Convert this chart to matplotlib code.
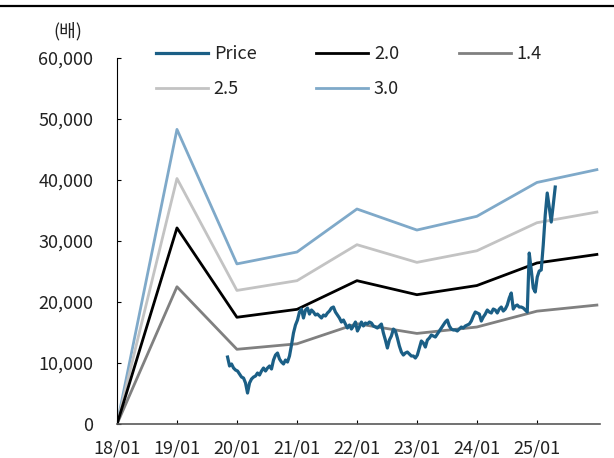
import pandas as pd
import matplotlib
matplotlib.use("Agg")
import matplotlib.pyplot as plt
from matplotlib.lines import Line2D
from matplotlib.ticker import FuncFormatter

plt.rcParams["font.family"] = ["Noto Sans CJK KR", "DejaVu Sans"]

# PBR band values at the start of each year (won)
band_dates = pd.to_datetime(["2018-01-01", "2019-01-01", "2020-01-01", "2021-01-01", "2022-01-01",
                             "2023-01-01", "2024-01-01", "2025-01-01", "2026-01-01"])
band_14 = [0, 22500, 12250, 13150, 16450, 14850, 15900, 18500, 19500]
band_20 = [0, 32150, 17500, 18800, 23500, 21200, 22700, 26400, 27800]
band_25 = [0, 40250, 21900, 23500, 29400, 26500, 28400, 33000, 34750]
band_30 = [0, 48300, 26250, 28200, 35250, 31800, 34050, 39600, 41700]

# share price, every 12 days
price = [10980, 9510, 9840, 9180, 8850, 8690, 8200, 7700, 7540, 6720,
         5080, 6720, 7380, 7700, 7870, 8360, 8030, 8690, 9180, 8690,
         9180, 9510, 9020, 10490, 11310, 11640, 10660, 10160, 9840, 10490,
         10160, 11150, 12950, 14920, 16230, 17050, 18360, 18850, 17380, 18690,
         19020, 18030, 18690, 18360, 17870, 18030, 17700, 17380, 17870, 17700,
         18200, 18520, 19020, 19180, 18360, 17870, 17380, 16720, 17050, 16390,
         15740, 16230, 15570, 16070, 16720, 15250, 15900, 16720, 16070, 16560,
         16390, 16720, 16560, 16070, 15900, 15740, 16070, 16390, 14920, 13770,
         12460, 13770, 14430, 15570, 15250, 14100, 12790, 11800, 11310, 11640,
         11800, 11480, 11150, 11150, 10820, 11310, 12460, 13610, 13280, 12620,
         13770, 14100, 14590, 14430, 14260, 14750, 15250, 15740, 16230, 16720,
         17050, 16070, 15570, 15410, 15410, 15250, 15570, 15900, 15740, 16070,
         16230, 16390, 16880, 17700, 18360, 18200, 18030, 16880, 17540, 18030,
         18690, 18360, 18200, 18850, 18690, 18200, 18850, 19180, 18520, 18850,
         19510, 20660, 21480, 18850, 19340, 19510, 19180, 19180, 19020, 18690,
         18360, 28030, 25250, 22300, 21640, 24100, 25080, 25250, 29340, 34260,
         37870, 35570, 33110, 35900, 38850]
price_dates = pd.date_range("2019-11-05", periods=len(price), freq="292h")

year_ticks = pd.date_range("2018-01-01", "2025-01-01", freq="YS")
tick_labels = ["18/01", "19/01", "20/01", "21/01", "22/01", "23/01", "24/01", "25/01"]

fig = plt.figure(figsize=(6.14, 4.58), dpi=100)
ax = fig.add_axes([0.1906, 0.0742, 0.7866, 0.7991])

ax.plot(band_dates, band_30, color="#7fa9c9", lw=2, label="3.0")
ax.plot(band_dates, band_25, color="#c3c3c3", lw=2, label="2.5")
ax.plot(band_dates, band_14, color="#808080", lw=2, label="1.4")
ax.plot(band_dates, band_20, color="black", lw=2, label="2.0")
ax.plot(price_dates, price, color="#1b5f86", lw=2.3, label="Price")

ax.set_ylim(0, 60000)
ax.set_xlim(pd.Timestamp("2018-01-01"), pd.Timestamp("2026-01-20"))
ax.set_yticks(range(0, 60001, 10000))
ax.yaxis.set_major_formatter(FuncFormatter(lambda v, _: f"{int(v):,}"))
ax.set_xticks(year_ticks)
ax.set_xticklabels(tick_labels)

for s in ["top", "right"]:
    ax.spines[s].set_visible(False)
ax.spines["left"].set_color("black")
ax.spines["bottom"].set_color("#595959")
ax.spines["left"].set_linewidth(0.8)
ax.spines["bottom"].set_linewidth(1.2)
ax.tick_params(axis="y", direction="in", length=3, width=0.8, pad=17, labelsize=13)
ax.tick_params(axis="x", direction="in", length=3, width=0.8, pad=11, labelsize=13)
for lab in ax.get_yticklabels() + ax.get_xticklabels():
    lab.set_color("#222222")

# legend in the order of the reference (fills column by column)
h, l = ax.get_legend_handles_labels()
by = dict(zip(l, h))
order = ["Price", "2.5", "2.0", "3.0", "1.4"]
fig.legend([by[k] for k in order], order, loc="upper left", bbox_to_anchor=(0.254, 0.902),
           ncol=3, frameon=False, fontsize=13, handlelength=2.9, handletextpad=0.3,
           columnspacing=3.3, labelspacing=0.95, borderpad=0, borderaxespad=0,
           labelcolor="#222222")

fig.text(68 / 614, 1 - 31 / 458, "(배)", ha="center", va="center", fontsize=13, color="#222222")
fig.add_artist(Line2D([0, 1], [1 - 6 / 458, 1 - 6 / 458], color="black", lw=1.6,
                      transform=fig.transFigure))

fig.savefig("out.png", dpi=100)
